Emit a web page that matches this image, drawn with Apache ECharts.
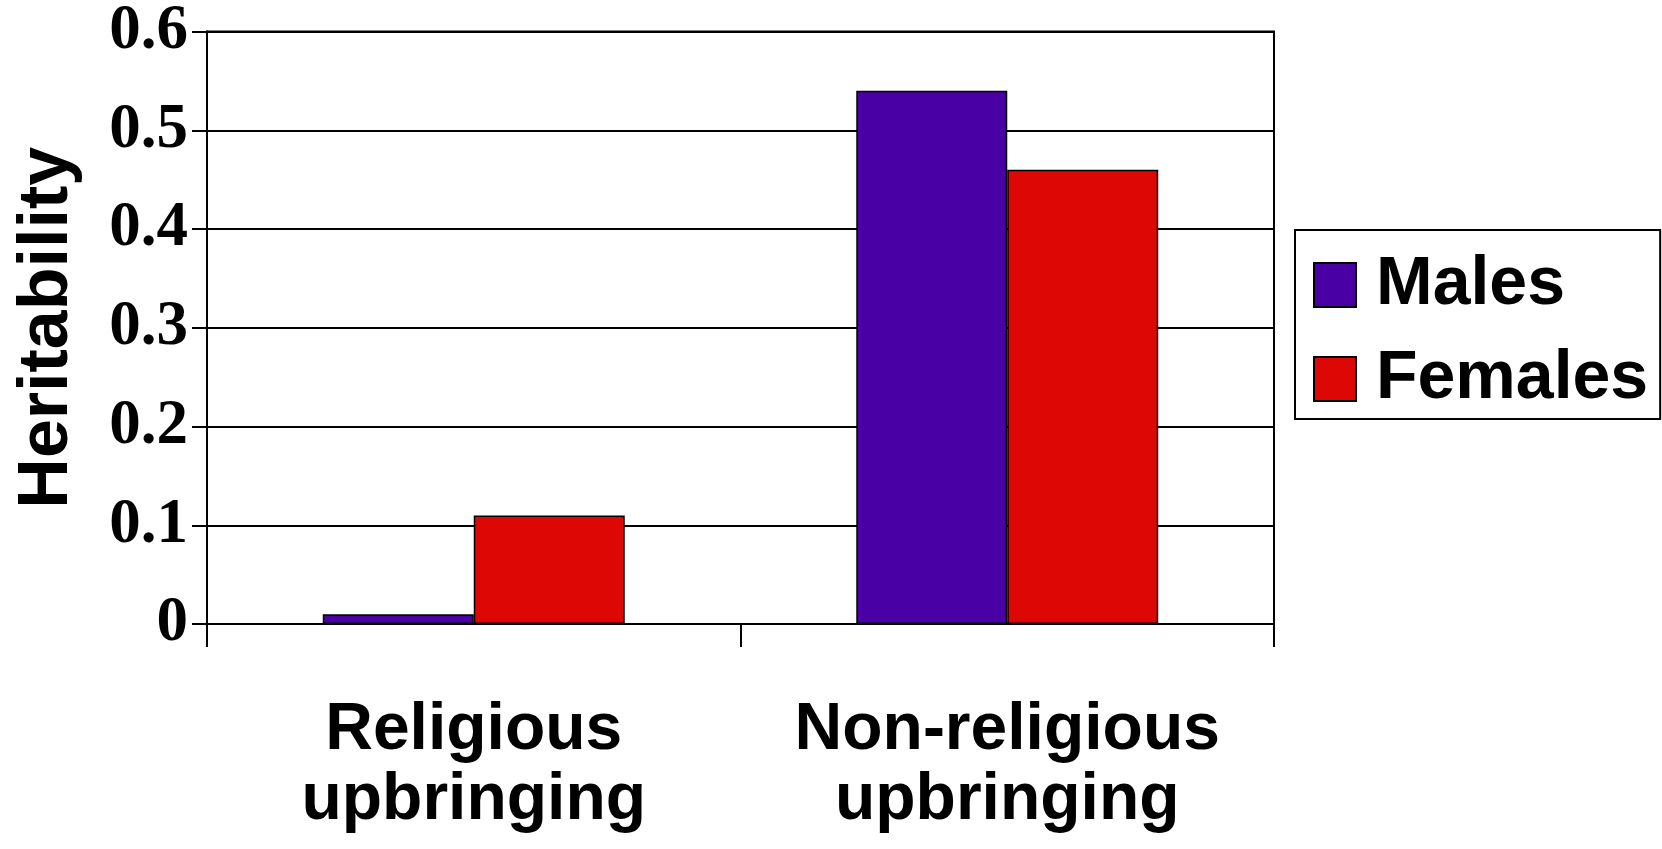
<!DOCTYPE html>
<html>
<head>
<meta charset="utf-8">
<script src="https://cdn.jsdelivr.net/npm/echarts@6/dist/echarts.min.js"></script>
<style>
  html, body { margin: 0; padding: 0; background: #fff; }
  #main { width: 1662px; height: 849px; }
</style>
</head>
<body>
<div id="main"></div>
<script>
var categories = ['Religious\nupbringing', 'Non-religious\nupbringing'];
var seriesNames = ['Males', 'Females'];
var males = [0.01, 0.54];
var females = [0.11, 0.46];
var yTicks = [0, 0.1, 0.2, 0.3, 0.4, 0.5, 0.6];

var myChart = echarts.init(document.getElementById('main'));

var option = {
    backgroundColor: '#fff',
    animation: false,
    grid: {
        left: 207,
        right: 388,
        top: 27,
        bottom: 225,
        show: true,
        borderColor: '#000',
        borderWidth: 2
    },
    legend: {
        orient: 'vertical',
        left: 1295,
        top: 230,
        data: seriesNames,
        icon: 'rect',
        padding: [21, 12, 6, 18],
        itemGap: 26,
        itemWidth: 42,
        itemHeight: 44,
        borderColor: '#000',
        borderWidth: 2,
        textStyle: {
            fontFamily: 'Liberation Sans, Arial, sans-serif',
            fontWeight: 'bold',
            fontSize: 68,
            lineHeight: 68,
            color: '#000',
            padding: [0, 0, 0, 15]
        }
    },
    xAxis: {
        type: 'category',
        data: categories,
        axisLine: { lineStyle: { color: '#000', width: 2 } },
        axisTick: { show: true, length: 23, lineStyle: { color: '#000', width: 2 } },
        axisLabel: {
            interval: 0,
            margin: 72,
            fontFamily: 'Liberation Sans, Arial, sans-serif',
            fontWeight: 'bold',
            fontSize: 66,
            lineHeight: 70,
            color: '#000',
            align: 'center'
        }
    },
    yAxis: {
        type: 'value',
        min: 0,
        max: 0.6,
        interval: 0.1,
        name: 'Heritability',
        nameLocation: 'middle',
        nameRotate: 90,
        nameGap: 124,
        nameTextStyle: {
            fontFamily: 'Liberation Sans, Arial, sans-serif',
            fontWeight: 'bold',
            fontSize: 70,
            lineHeight: 70,
            color: '#000'
        },
        axisLine: { show: true, lineStyle: { color: '#000', width: 2 } },
        axisTick: { show: true, length: 15, lineStyle: { color: '#000', width: 2 } },
        splitLine: { show: true, lineStyle: { color: '#000', width: 2 } },
        axisLabel: {
            margin: 19,
            fontFamily: 'Liberation Serif, Times New Roman, serif',
            fontWeight: 'bold',
            fontSize: 63,
            color: '#000',
            formatter: function (v) {
                var t = yTicks.filter(function (x) { return Math.abs(x - v) < 1e-9; })[0];
                return t === 0 ? '0' : t.toFixed(1);
            }
        }
    },
    series: [
        {
            name: seriesNames[0],
            type: 'bar',
            data: males,
            barWidth: '28.3%',
            barGap: '0%',
            itemStyle: { color: '#4900A4', borderColor: '#000', borderWidth: 1.5 }
        },
        {
            name: seriesNames[1],
            type: 'bar',
            data: females,
            barWidth: '28.3%',
            barGap: '0%',
            itemStyle: { color: '#DD0805', borderColor: '#000', borderWidth: 1.5 }
        }
    ]
};

myChart.setOption(option);
</script>
</body>
</html>
